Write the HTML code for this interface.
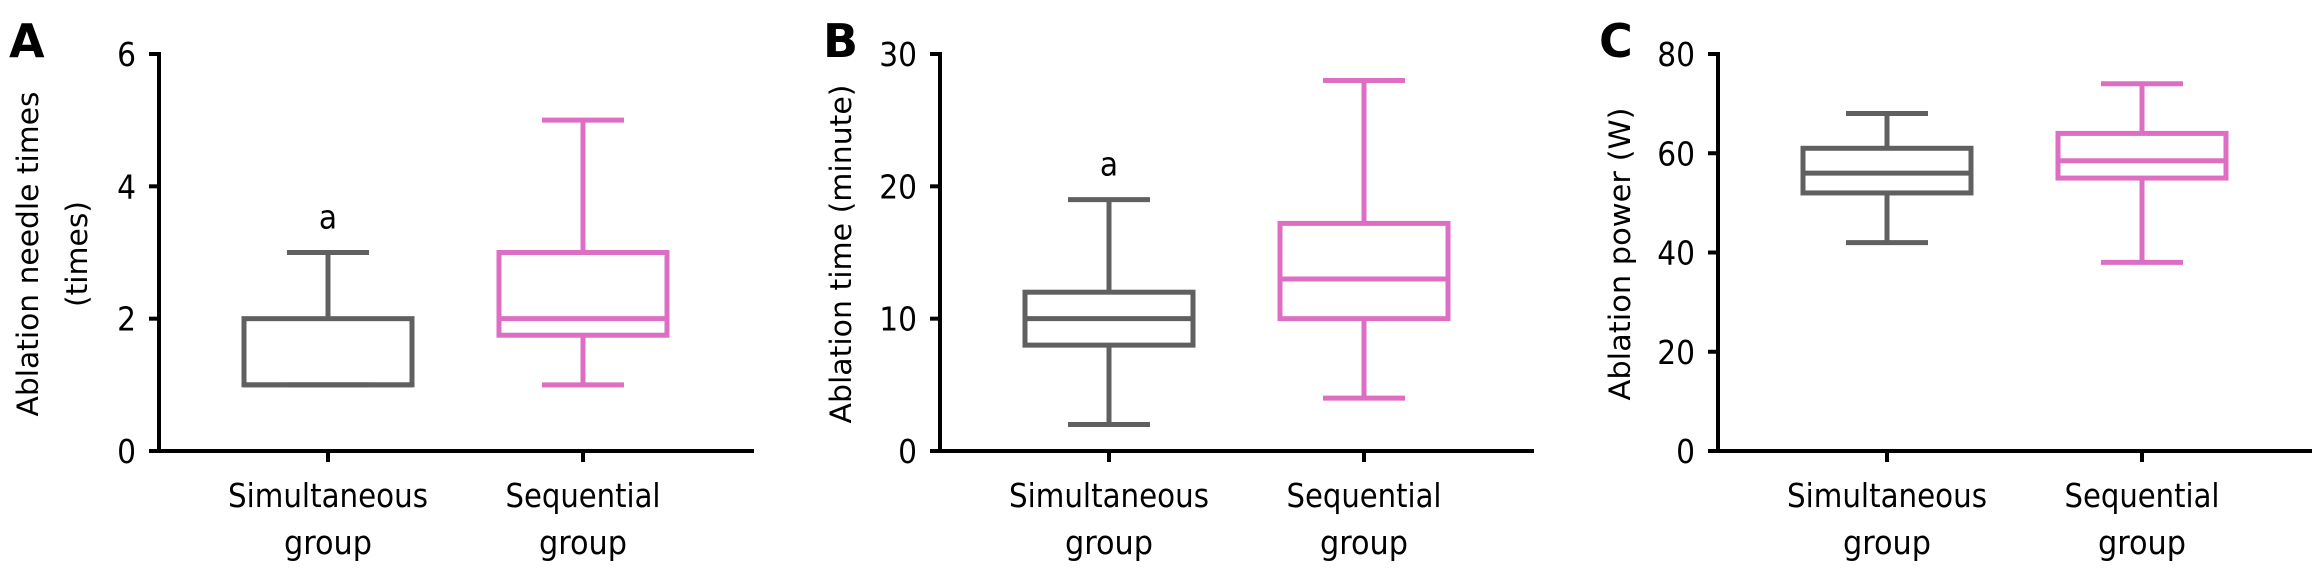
<!DOCTYPE html>
<html><head><meta charset="utf-8"><style>
html,body{margin:0;padding:0;background:#fff;}
svg{display:block;}
text{fill:#000;}
.tick{font-family:"DejaVu Sans Condensed","DejaVu Sans","Liberation Sans",sans-serif;font-size:33px;}
.cat{font-family:"DejaVu Sans Condensed","DejaVu Sans","Liberation Sans",sans-serif;font-size:33px;}
.ttl{font-family:"DejaVu Sans","Liberation Sans",sans-serif;font-size:29px;}
.pl{font-family:"DejaVu Sans","Liberation Sans",sans-serif;font-size:46px;font-weight:bold;}
</style></head><body>
<svg id="chart" width="2314" height="571" viewBox="0 0 2314 571" xmlns="http://www.w3.org/2000/svg"></svg>
<script>
const categories = ["Simultaneous group", "Sequential group"];
const panelLabels = ["A", "B", "C"];
const yTitlesA = ["Ablation needle times", "(times)"];
const yTitlesB = ["Ablation time (minute)"];
const yTitlesC = ["Ablation power (W)"];
const ticksA = [0, 2, 4, 6];
const ticksB = [0, 10, 20, 30];
const ticksC = [0, 20, 40, 60, 80];
// [min, q1, median, q3, max] per group
const boxA_sim = [1, 1, 1, 2, 3];
const boxA_seq = [1, 1.75, 2, 3, 5];
const boxB_sim = [2, 8, 10, 12, 19];
const boxB_seq = [4, 10, 13, 17.2, 28];
const boxC_sim = [42, 52, 56, 61, 68];
const boxC_seq = [38, 55, 58.5, 64, 74];
const sigA = ["a", ""];
const sigB = ["a", ""];
const sigC = ["", ""];

const NS = "http://www.w3.org/2000/svg";
const svg = document.getElementById("chart");
const colors = ["#606060", "#dd6ec4"];
function mk(tag, attrs, parent) {
  const e = document.createElementNS(NS, tag);
  for (const k in attrs) e.setAttribute(k, attrs[k]);
  (parent || svg).appendChild(e);
  return e;
}
function panel(cfg) {
  const g = mk("g", {});
  
  
  const x0 = cfg.axisX, yTop = 54, yBot = 451;
  const ymax = cfg.ticks[cfg.ticks.length - 1];
  const yS = v => yBot - (v / ymax) * (yBot - yTop);
  const xCat = i => x0 + 169 + i * 255;
  // panel label
  const pl = mk("text", {x: cfg.labelX, y: 57, class: "pl"}, g);
  pl.textContent = cfg.label;
  
  
  // axes
  const ya = mk("line", {x1: x0, y1: yTop - 2, x2: x0, y2: yBot + 2, stroke: "#000", "stroke-width": 4}, g);
  
  
  const xa = mk("line", {x1: x0 - 10, y1: yBot, x2: cfg.axisEnd, y2: yBot, stroke: "#000", "stroke-width": 4}, g);
  
  
  cfg.ticks.forEach(t => {
    const y = yS(t);
    const tl = mk("line", {x1: x0 - 10, y1: y, x2: x0, y2: y, stroke: "#000", "stroke-width": 4}, g);
    
    
    const tx = mk("text", {x: x0 - 23, y: y + 12, class: "tick", "text-anchor": "end"}, g);
    tx.textContent = t;
    
    
  });
  // y title
  cfg.titles.forEach((t, i) => {
    const n = cfg.titles.length;
    const tx = cfg.titleX + (i - (n - 1)) * 0 + i * 49;
    const yt = mk("text", {x: tx, y: 254, class: "ttl", "text-anchor": "middle",
      transform: "rotate(-90 " + tx + " 254)", textLength: cfg.titleLen[i], lengthAdjust: "spacingAndGlyphs"}, g);
    yt.textContent = t;
    
    
  });
  // boxes
  cfg.boxes.forEach((b, i) => {
    const cx = xCat(i), col = colors[i];
    const bg = mk("g", {}, g);
    
    
    const sw = 5;
    mk("line", {x1: cx, y1: yS(b[3]), x2: cx, y2: yS(b[4]), stroke: col, "stroke-width": sw}, bg);
    mk("line", {x1: cx, y1: yS(b[1]), x2: cx, y2: yS(b[0]), stroke: col, "stroke-width": sw}, bg);
    mk("line", {x1: cx - 41, y1: yS(b[4]), x2: cx + 41, y2: yS(b[4]), stroke: col, "stroke-width": sw}, bg);
    mk("line", {x1: cx - 41, y1: yS(b[0]), x2: cx + 41, y2: yS(b[0]), stroke: col, "stroke-width": sw}, bg);
    mk("rect", {x: cx - 84, y: yS(b[3]), width: 168, height: yS(b[1]) - yS(b[3]), fill: "none", stroke: col, "stroke-width": sw}, bg);
    mk("line", {x1: cx - 84, y1: yS(b[2]), x2: cx + 84, y2: yS(b[2]), stroke: col, "stroke-width": sw}, bg);
    if (cfg.sig[i]) {
      const s = mk("text", {x: cx, y: yS(b[4]) - 24, class: "tick", "text-anchor": "middle"}, g);
      s.textContent = cfg.sig[i];
      
      
    }
    const ct = mk("line", {x1: cx, y1: yBot, x2: cx, y2: yBot + 11, stroke: "#000", "stroke-width": 4}, g);
    
    
    const parts = categories[i].split(" ");
    const l1 = mk("text", {x: cx, y: 507, class: "cat", "text-anchor": "middle",
      textLength: i === 0 ? 200 : 155, lengthAdjust: "spacingAndGlyphs"}, g);
    l1.textContent = parts[0];
    
    
    const l2 = mk("text", {x: cx, y: 554, class: "cat", "text-anchor": "middle",
      textLength: 88, lengthAdjust: "spacingAndGlyphs"}, g);
    l2.textContent = parts[1];
    
    
  });
}
panel({label: panelLabels[0], labelX: 9, axisX: 159, axisEnd: 754, ticks: ticksA,
  titles: yTitlesA, titleX: 38, titleLen: [325, 106], boxes: [boxA_sim, boxA_seq], sig: sigA});
panel({label: panelLabels[1], labelX: 823, axisX: 940, axisEnd: 1534, ticks: ticksB,
  titles: yTitlesB, titleX: 851, titleLen: [339], boxes: [boxB_sim, boxB_seq], sig: sigB});
panel({label: panelLabels[2], labelX: 1599, axisX: 1718, axisEnd: 2312, ticks: ticksC,
  titles: yTitlesC, titleX: 1630, titleLen: [293], boxes: [boxC_sim, boxC_seq], sig: sigC});
</script>
</body></html>
